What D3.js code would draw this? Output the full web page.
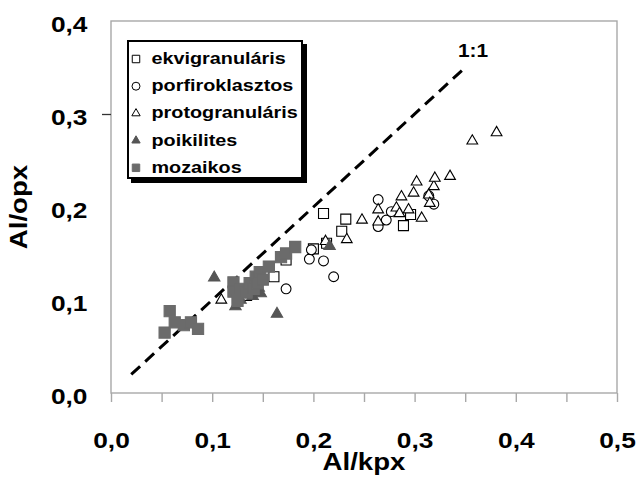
<!DOCTYPE html>
<html>
<head>
<meta charset="utf-8">
<script src="https://cdn.jsdelivr.net/npm/d3@7"></script>
<style>
  body { margin: 0; background: #fff; }
  text { font-family: "Liberation Sans", Arial, sans-serif; font-weight: bold; fill: #000; }
</style>
</head>
<body>
<svg id="chart" width="638" height="479"></svg>
<script>
// Axis ticks
const xTickValues = [0, 0.05, 0.1, 0.15, 0.2, 0.25, 0.3, 0.35, 0.4, 0.45, 0.5];
const xLabelValues = [0, 0.1, 0.2, 0.3, 0.4, 0.5];
const yLabelValues = [0, 0.1, 0.2, 0.3, 0.4];

// Al/kpx (x) and Al/opx (y) for each texture group
const ekviX = [0.134, 0.161, 0.173, 0.200, 0.210, 0.213, 0.228, 0.232, 0.289, 0.296];
const ekviY = [0.105, 0.125, 0.143, 0.155, 0.193, 0.161, 0.174, 0.187, 0.180, 0.192];

const porfX = [0.173, 0.196, 0.198, 0.210, 0.220, 0.264, 0.264, 0.272, 0.277, 0.314, 0.319];
const porfY = [0.112, 0.144, 0.154, 0.142, 0.125, 0.208, 0.179, 0.186, 0.195, 0.212, 0.203];

const protoX = [0.109, 0.212, 0.233, 0.248, 0.264, 0.264, 0.282, 0.285, 0.287, 0.294, 0.299,
                0.302, 0.307, 0.314, 0.315, 0.319, 0.320, 0.335, 0.357, 0.381];
const protoY = [0.100, 0.163, 0.165, 0.186, 0.197, 0.184, 0.199, 0.193, 0.211, 0.197, 0.215,
                0.227, 0.188, 0.213, 0.204, 0.222, 0.231, 0.233, 0.271, 0.280];

const poikX = [0.102, 0.123, 0.128, 0.140, 0.148, 0.146, 0.164, 0.216];
const poikY = [0.124, 0.093, 0.100, 0.104, 0.107, 0.113, 0.085, 0.158];

const mozX = [0.053, 0.058, 0.063, 0.072, 0.079, 0.086,
              0.121, 0.121, 0.125, 0.128, 0.134, 0.137, 0.141, 0.143, 0.145, 0.147, 0.150,
              0.156, 0.168, 0.173, 0.182];
const mozY = [0.065, 0.088, 0.076, 0.073, 0.076, 0.069,
              0.119, 0.109, 0.099, 0.112, 0.108, 0.118, 0.112, 0.125, 0.118, 0.130, 0.122,
              0.136, 0.146, 0.150, 0.157];

// 1:1 reference line end points
const refLine = [[0.02, 0.02], [0.35, 0.35]];

const seriesNames = ["ekvigranuláris", "porfiroklasztos", "protogranuláris", "poikilites", "mozaikos"];

const fmt = v => d3.format(".1f")(v).replace(".", ",");

const svg = d3.select("#chart");
const x = d3.scaleLinear().domain([0, 0.5]).range([111, 617]);
const y = d3.scaleLinear().domain([0, 0.4]).range([393, 21]);

// plot frame
svg.append("rect")
  .attr("x", x(0)).attr("y", y(0.4))
  .attr("width", x(0.5) - x(0)).attr("height", y(0) - y(0.4))
  .attr("fill", "none").attr("stroke", "#a8a8a8").attr("stroke-width", 1.4);

// x axis: ticks every 0.05, labels at every 0.1
const xAxis = svg.append("g")
  .attr("transform", `translate(0,${y(0)})`)
  .call(d3.axisBottom(x).tickValues(xTickValues).tickSize(9)
    .tickFormat(v => xLabelValues.some(l => Math.abs(l - v) < 1e-9) ? fmt(v) : ""));
xAxis.select(".domain").remove();
xAxis.selectAll(".tick line").attr("stroke", "#a8a8a8").attr("stroke-width", 1.4);
xAxis.selectAll(".tick text")
  .attr("x", 0).attr("y", 0).attr("dy", null)
  .attr("transform", "translate(0,55) scale(1.17,1)")
  .style("font-size", "22.5px").attr("font-family", null)
  .attr("text-anchor", "middle");

// y axis labels
const yAxis = svg.append("g")
  .attr("transform", `translate(${x(0)},0)`)
  .call(d3.axisLeft(y).tickValues(yLabelValues).tickSize(0).tickFormat(fmt));
yAxis.select(".domain").remove();
yAxis.selectAll(".tick text")
  .attr("x", 0).attr("y", 0).attr("dy", null)
  .attr("transform", `translate(${87.5 - x(0)},10.7) scale(1.17,1)`)
  .style("font-size", "22.5px").attr("font-family", null)
  .attr("text-anchor", "end");

// single y tick mark
const yTick = svg.append("g")
  .attr("transform", `translate(${x(0)},0)`)
  .call(d3.axisLeft(y).tickValues([0.3]).tickSize(9).tickFormat(""));
yTick.select(".domain").remove();
yTick.selectAll(".tick line").attr("stroke", "#333").attr("stroke-width", 1.3);

// axis titles
svg.append("text")
  .attr("transform", `translate(${(x(0) + x(0.5)) / 2},470) scale(1.2,1)`)
  .attr("text-anchor", "middle").style("font-size", "23px").text("Al/kpx");
svg.append("text")
  .attr("transform", `translate(26.7,${(y(0) + y(0.4)) / 2}) rotate(-90) scale(1.2,1)`)
  .attr("text-anchor", "middle").style("font-size", "23px").text("Al/opx");

// 1:1 line
svg.append("line")
  .attr("x1", x(refLine[0][0])).attr("y1", y(refLine[0][1]))
  .attr("x2", x(refLine[1][0])).attr("y2", y(refLine[1][1]))
  .attr("stroke", "#000").attr("stroke-width", 3)
  .attr("stroke-dasharray", "12,7");
svg.append("text")
  .attr("transform", "translate(473,57) scale(1.1,1)")
  .attr("text-anchor", "middle").style("font-size", "19px").text("1:1");

// marker styles per series
const styles = [
  { type: d3.symbolSquare,   size: 100, fill: "#fff",    stroke: "#000" },
  { type: d3.symbolCircle,   size: 76,  fill: "#fff",    stroke: "#000" },
  { type: d3.symbolTriangle, size: 50,  fill: "#fff",    stroke: "#000" },
  { type: d3.symbolTriangle, size: 56,  fill: "#555",    stroke: "#555" },
  { type: d3.symbolSquare,   size: 125, fill: "#6b6b6b", stroke: "#6b6b6b" }
];
const series = [
  [ekviX, ekviY], [porfX, porfY], [protoX, protoY], [poikX, poikY], [mozX, mozY]
];

series.forEach(([xs, ys], i) => {
  const st = styles[i];
  const pts = xs.map((v, j) => [v, ys[j]]);
  svg.append("g").selectAll("path").data(pts).join("path")
    .attr("transform", d => `translate(${x(d[0])},${y(d[1])})`)
    .attr("d", d3.symbol().type(st.type).size(st.size))
    .attr("fill", st.fill).attr("stroke", st.stroke).attr("stroke-width", 1.1);
});

// legend
const lg = svg.append("g");
lg.append("rect").attr("x", 131).attr("y", 44).attr("width", 176).attr("height", 139).attr("fill", "#000");
lg.append("rect").attr("x", 128).attr("y", 41).attr("width", 174).attr("height", 137)
  .attr("fill", "#fff").attr("stroke", "#000").attr("stroke-width", 2);
const legendBase = [64, 91.2, 118.4, 145.6, 172.8];
seriesNames.forEach((name, i) => {
  const st = styles[i];
  const sz = st.type === d3.symbolTriangle ? 30 : (st.type === d3.symbolCircle ? 50 : 56);
  lg.append("path")
    .attr("transform", `translate(136,${legendBase[i] - 5})`)
    .attr("d", d3.symbol().type(st.type).size(sz))
    .attr("fill", st.fill).attr("stroke", st.stroke).attr("stroke-width", 1);
  lg.append("text")
    .attr("transform", `translate(151.5,${legendBase[i]}) scale(1.2,1)`)
    .style("font-size", "16.5px").text(name);
});
</script>
</body>
</html>
